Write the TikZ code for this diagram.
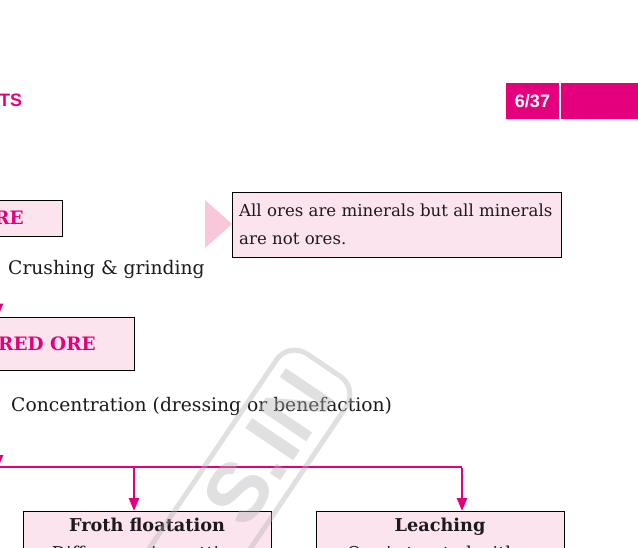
\documentclass[tikz,border=0pt]{standalone}
\usepackage{fontspec}
\setmainfont{DejaVu Serif}
\newfontfamily\hsans{Liberation Sans}
\usetikzlibrary{arrows.meta}
\definecolor{mag}{RGB}{228,0,124}
\definecolor{pinkfill}{RGB}{252,228,238}
\definecolor{tripink}{RGB}{248,200,218}
\definecolor{ink}{RGB}{30,26,28}
\begin{document}
\begin{tikzpicture}[x=1pt,y=-1pt,
  box/.style={draw=black,line width=0.8pt,fill=pinkfill,inner sep=0pt},
  flow/.style={draw=mag,line width=2.6pt,-{Triangle[width=10pt,length=13pt]}},
  flowline/.style={draw=mag,line width=2.6pt},
  boxtitle/.style={font=\fontsize{18.5}{22}\selectfont\bfseries,text=mag,inner sep=0pt},
  lbl/.style={font=\fontsize{18.7}{22}\selectfont,text=ink,anchor=west,inner sep=0pt},
  headtab/.style={fill=mag,draw=none,inner sep=0pt},
  wmark/.style={rotate=56,opacity=0.4},
]
\useasboundingbox (0,0) rectangle (638,547);
\fill[white] (0,0) rectangle (638,547);

% header
\node[font=\hsans\bfseries\fontsize{18}{20}\selectfont,text=mag,anchor=west,inner sep=0pt] (head) at (-1,100) {TS};
\node[headtab,minimum width=53pt,minimum height=36pt] (page) at (532.5,101) {};
\node[font=\hsans\bfseries\fontsize{18}{20}\selectfont,text=white,inner sep=0pt] (pagenum) at (page.center) {6/37};
\node[headtab,minimum width=78pt,minimum height=36pt] (tab) at (600,101) {};

% left column
\node[box,minimum width=126pt,minimum height=36pt] (ore) at (-1,218) {};
\node[boxtitle,anchor=east] (oret) at (24,218) {ORE};
\node[box,minimum width=270pt,minimum height=53pt] (powd) at (-1,343.5) {};
\node[boxtitle,anchor=east] (powdt) at (96,344) {POWDERED ORE};

\draw[flow] (ore.south -| -2,0) -- (powd.north -| -2,0);
\node[lbl] (crush) at (8,269) {Crushing \& grinding};
\coordinate (split) at (-2,467);
\draw[flow] (powd.south -| -2,0) -- ([yshift=-1pt]split);
\node[lbl] (conc) at (11,406) {Concentration (dressing or benefaction)};

% branches
\node[box,minimum width=248pt,minimum height=100pt,anchor=north] (froth) at (147,511) {};
\node[box,minimum width=248pt,minimum height=100pt,anchor=north] (leach) at (440,511) {};
\node[font=\fontsize{17.7}{28}\selectfont,text=ink,align=center,anchor=north,inner sep=0pt] (frotht) at (147,518) {\textbf{Froth floatation}\\Difference in wetting};
\node[font=\fontsize{17.7}{28}\selectfont,text=ink,align=center,anchor=north,inner sep=0pt] (leacht) at (440,518) {\textbf{Leaching}\\Ore is treated with a};

\coordinate (west) at (-150,467);
\coordinate (fj) at (134,467);
\coordinate (lj) at (462,467);
\draw[flowline] (west) -- (lj);
\draw[flow] (fj) -- (fj |- froth.north);
\draw[flow] ([yshift=-1.3pt]lj) -- (lj |- leach.north);

% note
\fill[tripink] (205,200) -- (232,224) -- (205,248) -- cycle;
\node[box,minimum width=329pt,minimum height=65pt] (note) at (396.5,224.5) {};
\node[font=\fontsize{16.6}{28}\selectfont,text=ink,align=left,anchor=north west,inner sep=0pt] (notet) at (239,203.5) {All ores are minerals but all minerals\\are not ores.};

% watermark
\node[wmark,draw=gray!60,line width=5pt,rounded corners=22pt,minimum width=420pt,minimum height=84pt,anchor=east] (wmbox) at (325,363) {};
\node[wmark,text=gray!60,font=\hsans\bfseries\fontsize{84}{84}\selectfont,anchor=east,inner sep=0pt] (wmtext) at (314,380) {S.IN};
\end{tikzpicture}
\end{document}
